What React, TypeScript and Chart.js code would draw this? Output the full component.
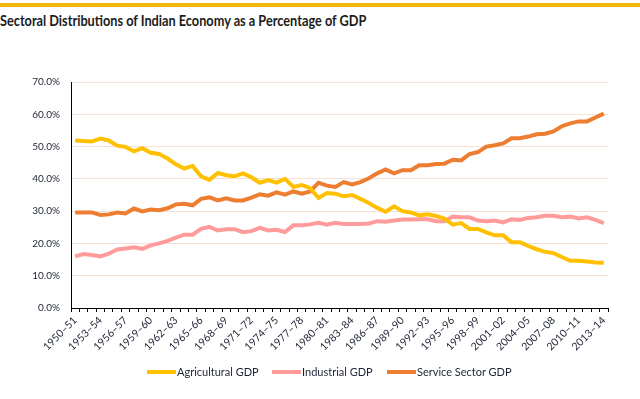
import React, { useEffect, useRef } from "react";
import { Chart, registerables } from "chart.js";

Chart.register(...registerables);

const categories = [
  "1950–51","1951–52","1952–53","1953–54","1954–55","1955–56","1956–57","1957–58",
  "1958–59","1959–60","1960–61","1961–62","1962–63","1963–64","1964–65","1965–66",
  "1966–67","1967–68","1968–69","1969–70","1970–71","1971–72","1972–73","1973–74",
  "1974–75","1975–76","1976–77","1977–78","1978–79","1979–80","1980–81","1981–82",
  "1982–83","1983–84","1984–85","1985–86","1986–87","1987–88","1988–89","1989–90",
  "1990–91","1991–92","1992–93","1993–94","1994–95","1995–96","1996–97","1997–98",
  "1998–99","1999–00","2000–01","2001–02","2002–03","2003–04","2004–05","2005–06",
  "2006–07","2007–08","2008–09","2009–10","2010–11","2011–12","2012–13","2013–14",
];

const agriculturalGDP = [
  51.9, 51.7, 51.6, 52.5, 51.9, 50.3, 49.9, 48.5, 49.5, 48.1, 47.7, 46.3, 44.5, 43.2, 44.0, 40.8,
  39.7, 41.8, 41.1, 40.8, 41.7, 40.5, 38.8, 39.6, 38.8, 40.0, 37.5, 38.1, 37.1, 34.1, 35.6, 35.4,
  34.6, 35.0, 33.8, 32.5, 31.0, 29.8, 31.5, 30.0, 29.6, 28.7, 29.0, 28.5, 27.7, 25.8, 26.3, 24.5,
  24.5, 23.4, 22.5, 22.5, 20.4, 20.4, 19.2, 18.2, 17.4, 17.0, 15.8, 14.6, 14.6, 14.4, 14.1, 14.0,
];

const industrialGDP = [
  16.0, 16.7, 16.4, 16.0, 16.8, 18.1, 18.4, 18.8, 18.3, 19.4, 20.0, 20.8, 21.8, 22.7, 22.7, 24.5,
  25.1, 24.0, 24.4, 24.4, 23.5, 23.8, 24.8, 24.0, 24.2, 23.5, 25.6, 25.6, 25.9, 26.4, 25.8, 26.4,
  26.0, 26.0, 26.0, 26.2, 26.9, 26.7, 27.1, 27.4, 27.4, 27.5, 27.5, 26.9, 26.9, 28.3, 28.1, 28.1,
  27.1, 26.9, 27.1, 26.5, 27.5, 27.3, 27.9, 28.1, 28.6, 28.6, 28.1, 28.3, 27.7, 28.1, 27.3, 26.3,
];

const serviceSectorGDP = [
  29.6, 29.6, 29.6, 28.8, 29.0, 29.6, 29.3, 30.8, 29.9, 30.5, 30.3, 30.9, 32.1, 32.3, 31.8, 33.8,
  34.3, 33.3, 34.0, 33.3, 33.3, 34.2, 35.2, 34.8, 35.8, 35.1, 36.1, 35.4, 36.1, 38.8, 37.9, 37.5,
  39.0, 38.3, 39.0, 40.2, 41.7, 42.9, 41.7, 42.7, 42.7, 44.2, 44.2, 44.6, 44.7, 45.9, 45.7, 47.7,
  48.3, 50.0, 50.4, 51.0, 52.6, 52.6, 53.1, 53.8, 54.0, 54.7, 56.3, 57.2, 57.8, 57.8, 59.0, 60.2,
];

const seriesNames = ["Agricultural GDP", "Industrial GDP", "Service Sector GDP"];
const seriesColors = ["#FFC000", "#FF9B9B", "#ED7D31"];
const yTicks = [0, 10, 20, 30, 40, 50, 60, 70];
const titleText = "Sectoral Distributions of Indian Economy as a Percentage of GDP";

const FONT = "Lato, sans-serif";
const TEXT = "#1e2436";

export default function App() {
  const ref = useRef<HTMLCanvasElement | null>(null);
  const titleRef = useRef<HTMLDivElement | null>(null);

  useEffect(() => {
    if (titleRef.current) {
      const w = titleRef.current.scrollWidth;
      if (w > 0) titleRef.current.style.transform = `scaleX(${366 / w})`;
    }
    if (!ref.current) return;
    const chart = new Chart(ref.current, {
      type: "line",
      data: {
        labels: categories,
        datasets: [agriculturalGDP, industrialGDP, serviceSectorGDP].map((d, i) => ({
          label: seriesNames[i],
          data: d,
          borderColor: seriesColors[i],
          backgroundColor: seriesColors[i],
          borderWidth: 4,
          pointRadius: 0,
          tension: 0,
          fill: false,
        })),
      },
      options: {
        responsive: false,
        animation: false,
        layout: { padding: { top: 82, left: 0, right: 32, bottom: 31 } },
        plugins: {
          legend: { display: false },
          tooltip: { enabled: false },
          title: { display: false },
        },
        scales: {
          x: {
            type: "category",
            offset: true,
            grid: {
              offset: true,
              drawOnChartArea: false,
              drawTicks: true,
              tickLength: 4,
              color: "#000",
            },
            border: { display: true, color: "#000", width: 1 },
            ticks: {
              autoSkip: false,
              maxRotation: 45,
              minRotation: 45,
              padding: 2,
              color: TEXT,
              font: { family: FONT, size: 10.5 },
              callback: (_v: any, idx: number) => (idx % 3 === 0 ? categories[idx] : ""),
            },
            afterFit: (s: any) => {
              s.height = 60;
            },
          },
          y: {
            min: 0,
            max: 70,
            afterBuildTicks: (s: any) => {
              s.ticks = yTicks.map((v) => ({ value: v }));
            },
            grid: { color: "#F7DFD5", lineWidth: 1, drawTicks: false },
            border: { display: true, color: "#000", width: 1 },
            ticks: {
              padding: 11,
              color: TEXT,
              font: { family: FONT, size: 10 },
              callback: (v: any) => Number(v).toFixed(1) + "%",
            },
            afterFit: (s: any) => {
              s.width = 71;
            },
          },
        },
      },
    });
    return () => chart.destroy();
  }, []);

  const legendItems = [
    { left: 147, text: seriesNames[0], color: seriesColors[0] },
    { left: 272, text: seriesNames[1], color: seriesColors[1] },
    { left: 387, text: seriesNames[2], color: seriesColors[2] },
  ];

  return (
    <div
      style={{
        position: "fixed",
        left: 0,
        top: 0,
        width: 640,
        height: 399,
        background: "#fff",
        overflow: "hidden",
        fontFamily: FONT,
      }}
    >
      <div style={{ position: "absolute", left: 0, top: 3, width: 640, height: 4, background: "#F2B705" }} />
      <div
        ref={titleRef}
        style={{
          position: "absolute",
          left: 0,
          top: 11,
          fontSize: 16,
          fontWeight: "bold",
          color: "#1c1c1c",
          whiteSpace: "nowrap",
          lineHeight: "18px",
          transformOrigin: "0 0",
          display: "inline-block",
        }}
      >
        {titleText}
      </div>
      <canvas ref={ref} width={640} height={399} style={{ position: "absolute", left: 0, top: 0 }} />
      {legendItems.map((it) => (
        <div
          key={it.text}
          style={{
            position: "absolute",
            left: it.left,
            top: 365,
            height: 14,
            display: "flex",
            alignItems: "center",
            whiteSpace: "nowrap",
          }}
        >
          <div style={{ width: 29, height: 4, background: it.color, marginRight: 1 }} />
          <span style={{ fontSize: 11, color: TEXT, lineHeight: "14px" }}>{it.text}</span>
        </div>
      ))}
    </div>
  );
}
